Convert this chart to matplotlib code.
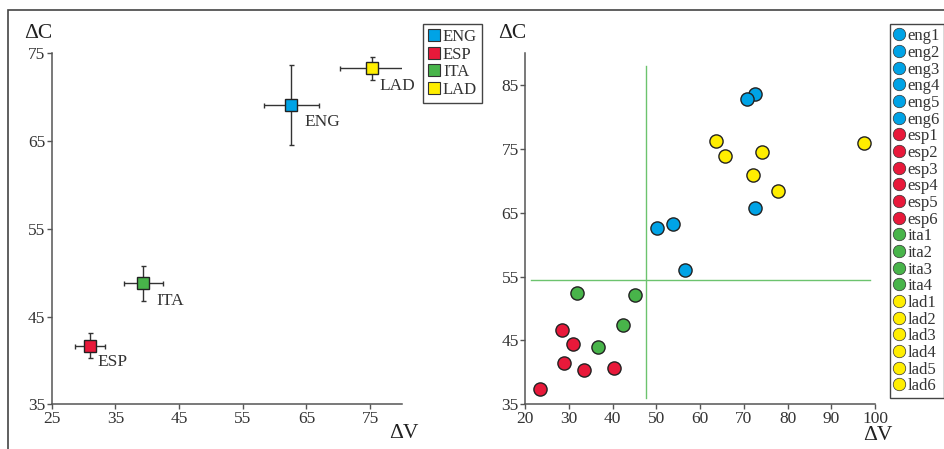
import matplotlib
matplotlib.use("Agg")
import matplotlib.pyplot as plt
from matplotlib.patches import Rectangle
from matplotlib.lines import Line2D

plt.rcParams['font.family'] = ['Liberation Serif', 'DejaVu Serif']

# --- data -------------------------------------------------------------
groups = ['ENG', 'ESP', 'ITA', 'LAD']
group_colors = ['#00A3E6', '#E8193A', '#48B44A', '#FFEE00']

mean_v = [62.6, 31.0, 39.4, 75.3]
mean_c = [69.1, 41.7, 48.8, 73.3]
err_v = [4.3, 2.3, 3.1, 5.0]
err_c = [4.6, 1.4, 2.0, 1.3]

eng_v = [72.6, 70.7, 72.6, 50.2, 53.9, 56.5]
eng_c = [83.7, 82.9, 65.7, 62.6, 63.3, 56.1]
esp_v = [28.5, 31.0, 29.0, 33.4, 40.3, 23.5]
esp_c = [46.7, 44.4, 41.4, 40.4, 40.7, 37.4]
ita_v = [31.9, 45.2, 42.5, 36.6]
ita_c = [52.4, 52.1, 47.5, 44.0]
lad_v = [63.7, 65.8, 74.1, 72.1, 77.9, 97.4]
lad_c = [76.2, 73.9, 74.6, 70.9, 68.4, 75.9]

speaker_v = [eng_v, esp_v, ita_v, lad_v]
speaker_c = [eng_c, esp_c, ita_c, lad_c]
speaker_prefix = ['eng', 'esp', 'ita', 'lad']

# crosshair lines in the right panel
cross_v = 47.6
cross_v_span = [36.0, 88.0]
cross_c = 54.5
cross_c_span = [21.4, 98.9]

# --- layout helpers ---------------------------------------------------
W, H = 944, 449
fig = plt.figure(figsize=(W / 100, H / 100), dpi=100)


def box(x0, y0, x1, y1):
    # pixel box (top-left origin) -> figure fraction rect
    return [x0 / W, 1 - y1 / H, (x1 - x0) / W, (y1 - y0) / H]


def fxy(x, y):
    return x / W, 1 - y / H


# outer frame (only top and left visible)
fig.patches.append(Rectangle(fxy(7.5, 460), (960 - 7.5) / W, (460 - 10) / H,
                             transform=fig.transFigure, fill=False,
                             edgecolor='#444444', linewidth=1.2))

spine_col = '#555555'
tick_col = '#333333'
fs = 12.5


def style(ax):
    for s in ['top', 'right']:
        ax.spines[s].set_visible(False)
    for s in ['left', 'bottom']:
        ax.spines[s].set_color(spine_col)
        ax.spines[s].set_linewidth(1.1)
    ax.tick_params(direction='out', length=3.5, width=1, color=spine_col,
                   labelsize=fs, labelcolor=tick_col, pad=1)


# --- left panel -------------------------------------------------------
ax1 = fig.add_axes(box(51.7, 53.3, 402, 404.3))
style(ax1)
ax1.set_xlim(25, 80)
ax1.set_ylim(35, 75)
ax1.set_xticks([25, 35, 45, 55, 65, 75])
ax1.set_yticks([35, 45, 55, 65, 75])

label_offsets = [(9.5, -12.5), (5.5, -12), (9.5, -12.5), (5, -12.5)]
for i, g in enumerate(groups):
    ax1.errorbar(mean_v[i], mean_c[i], xerr=err_v[i], yerr=err_c[i],
                 fmt='none', ecolor='#333333', elinewidth=1, capsize=1.8,
                 capthick=1, zorder=2)
    ax1.plot(mean_v[i], mean_c[i], marker='s', ms=9, color=group_colors[i],
             mec='#222222', mew=1, ls='none', zorder=3)
    ax1.annotate(g, (mean_v[i], mean_c[i]), xytext=label_offsets[i],
                 textcoords='offset points', ha='left', va='center',
                 fontsize=fs, color='#333333')

fig.text(*fxy(38, 33), 'ΔC', fontsize=15.5, ha='center', va='center',
         color='#222222')
fig.text(*fxy(404, 434), 'ΔV', fontsize=15.5, ha='center', va='center',
         color='#222222')

h1 = [Line2D([], [], marker='s', ms=9, color=c, mec='#333333', mew=0.8,
             ls='none') for c in group_colors]
leg1 = fig.legend(h1, groups, loc='upper left',
                  bbox_to_anchor=fxy(423, 24), fontsize=fs - 0.5,
                  frameon=True, fancybox=False, framealpha=1,
                  edgecolor='#444444', borderpad=0.3, labelspacing=0.1,
                  handlelength=0.7, handletextpad=0.2, borderaxespad=0)
leg1.get_frame().set_linewidth(1)
for t in leg1.get_texts():
    t.set_color('#333333')

# --- right panel ------------------------------------------------------
ax2 = fig.add_axes(box(525, 53.3, 875, 404.3))
style(ax2)
ax2.set_xlim(20, 100)
ax2.set_ylim(35, 90)
ax2.set_xticks(range(20, 101, 10))
ax2.set_yticks([35, 45, 55, 65, 75, 85])
ax2.spines['left'].set_bounds(35, 90)

ax2.plot([cross_v, cross_v], cross_v_span, color='#6CC36E', lw=1, zorder=1)
ax2.plot(cross_c_span, [cross_c, cross_c], color='#6CC36E', lw=1, zorder=1)

h2, l2 = [], []
for i in range(len(groups)):
    for j, (v, c) in enumerate(zip(speaker_v[i], speaker_c[i])):
        ax2.plot(v, c, marker='o', ms=9.5, color=group_colors[i],
                 mec='#222222', mew=1, ls='none', zorder=3)
        h2.append(Line2D([], [], marker='o', ms=9, color=group_colors[i],
                         mec='#333333', mew=0.5, ls='none'))
        l2.append(f'{speaker_prefix[i]}{j + 1}')

fig.text(*fxy(512, 33), 'ΔC', fontsize=15.5, ha='center', va='center',
         color='#222222')
fig.text(*fxy(878, 436), 'ΔV', fontsize=15.5, ha='center', va='center',
         color='#222222')

leg2 = fig.legend(h2, l2, loc='upper left', bbox_to_anchor=fxy(890, 24),
                  fontsize=fs - 0.5, frameon=True, fancybox=False,
                  framealpha=1, edgecolor='#444444', borderpad=0.25,
                  labelspacing=0.04, handlelength=0.6, handletextpad=0.2,
                  borderaxespad=0)
leg2.get_frame().set_linewidth(1)
for t in leg2.get_texts():
    t.set_color('#333333')

fig.savefig('out.png', dpi=100)
